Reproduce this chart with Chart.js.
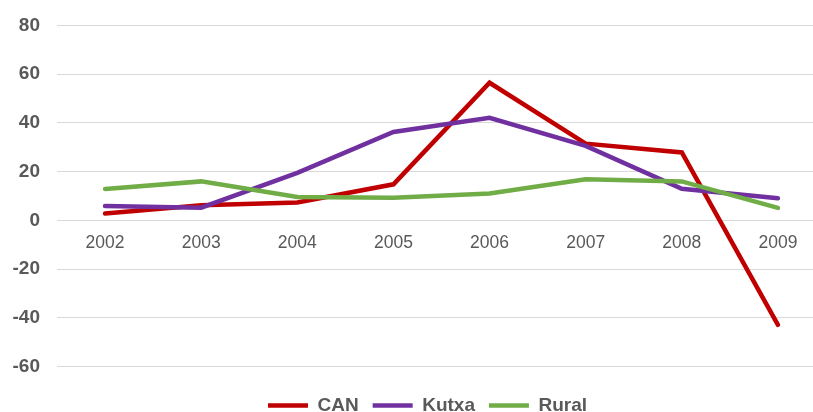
<!DOCTYPE html>
<html>
<head>
<meta charset="utf-8">
<script src="https://cdn.jsdelivr.net/npm/chart.js@4/dist/chart.umd.min.js"></script>
<style>
    html, body { margin: 0; padding: 0; background: #fff; overflow: hidden; }
    .box { width: 826px; height: 425px; position: relative; }
</style>
</head>
<body>
<div class="box"><canvas class="c1"></canvas></div>
<script>
const years = ['2002','2003','2004','2005','2006','2007','2008','2009'];
const can   = [2.8, 6.2, 7.3, 14.8, 56.5, 31.5, 27.9, -42.9];
const kutxa = [5.9, 5.2, 19.5, 36.3, 42.1, 30.6, 13, 9.1];
const rural = [12.9, 16, 9.6, 9.3, 11, 16.9, 16, 5.1];
const yTicks = [-60, -40, -20, 0, 20, 40, 60, 80];

const grey = '#595959';
const font = '"Liberation Sans", Arial, sans-serif';

function line(label, data, color, order){
    return {
        label: label,
        data: data,
        borderColor: color,
        backgroundColor: color,
        borderWidth: 4.5,
        borderCapStyle: 'round',
        pointRadius: 0,
        tension: 0,
        order: order
    };
}

{
    const ctx = document.querySelector(".c1");

  new Chart(ctx, {
    type: 'line',
    data: {
      labels: years,
      datasets: [
        line('CAN', can, '#C00000', 3),
        line('Kutxa', kutxa, '#7030A0', 2),
        line('Rural', rural, '#70AD47', 1)
      ]
    },
    options: {
      responsive: true,
      maintainAspectRatio: false,
      animation: false,
      devicePixelRatio: 1,
      layout: { padding: { left: 29, top: 25.5, right: 0, bottom: 0 } },
      plugins: {
        tooltip: { enabled: false },
        legend: {
          position: 'bottom',
          title: { display: true, text: '', padding: 0, font: { size: 15.5, lineHeight: 1 } },
          labels: {
            usePointStyle: true,
            pointStyle: 'line',
            pointStyleWidth: 40,
            padding: 14,
            color: grey,
            font: { family: font, size: 19, weight: 'bold' },
            sort: function(a, b){ return a.datasetIndex - b.datasetIndex; }
          }
        }
      },
      scales: {
        x: {
          position: { y: 0 },
          offset: true,
          grid: { display: false },
          border: { display: false },
          ticks: {
            color: grey,
            padding: 4,
            maxRotation: 0,
            autoSkip: false,
            font: { family: font, size: 17.5 }
          }
        },
        y: {
          min: yTicks[0],
          max: yTicks[yTicks.length - 1],
          // labels sit left of the plot, right aligned at x=40
          afterFit: function(s){ s.width = 28; },
          afterBuildTicks: function(s){ s.ticks = yTicks.map(function(v){ return { value: v }; }); },
          grid: { color: '#D9D9D9', lineWidth: 1, drawTicks: false },
          border: { display: false },
          ticks: {
            mirror: true,
            crossAlign: 'far',
            padding: -44.5,
            color: grey,
            callback: function(v){ return String(v); },
            font: { family: font, size: 19, weight: 'bold' }
          }
        }
      }
    }
  });
}
</script>
</body>
</html>
